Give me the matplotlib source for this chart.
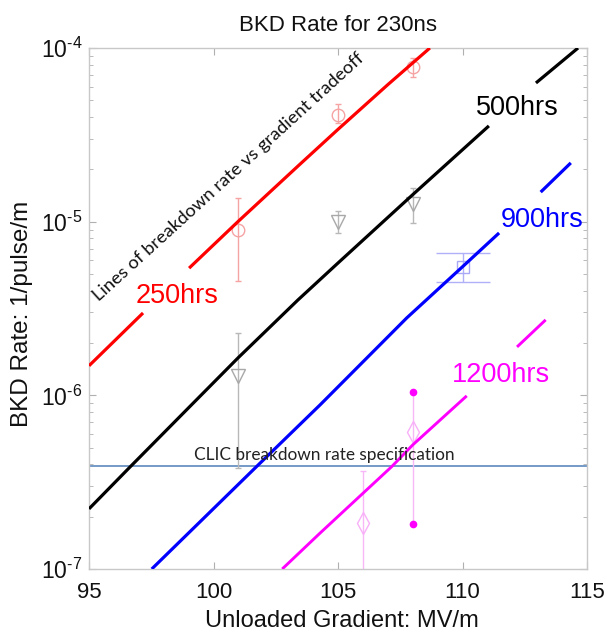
import matplotlib
matplotlib.use("Agg")
import math
import matplotlib.pyplot as plt
from matplotlib.ticker import FixedLocator, FuncFormatter, LogLocator, NullLocator

plt.rcParams['font.family'] = ['Liberation Sans', 'DejaVu Sans']
plt.rcParams['mathtext.fontset'] = 'custom'
plt.rcParams['mathtext.rm'] = 'Liberation Sans'
plt.rcParams['mathtext.it'] = 'Liberation Sans:italic'
plt.rcParams['mathtext.bf'] = 'Liberation Sans:bold'

# ---------------- data ----------------
title = "BKD Rate for 230ns"
x_label = "Unloaded Gradient: MV/m"
y_label = "BKD Rate: 1/pulse/m"
x_ticks = [95, 100, 105, 110, 115]
y_ticks = [1e-7, 1e-6, 1e-5, 1e-4]

# trade-off lines (each split in two pieces around its label)
g250_a = [95.0, 97.17]
r250_a = [1.48e-6, 2.98e-6]
g250_b = [99.02, 100.98, 103.47, 105.0, 107.0, 108.69]
r250_b = [5.40e-6, 1.0e-5, 2.14e-5, 3.40e-5, 6.15e-5, 1.0e-4]

g500_a = [95.0, 96.65, 99.06, 100.98, 103.39, 105.0, 108.0, 111.06]
r500_a = [2.22e-7, 3.87e-7, 8.65e-7, 1.64e-6, 3.54e-6, 5.78e-6, 1.43e-5, 3.56e-5]
g500_b = [112.95, 114.64]
r500_b = [6.29e-5, 1.0e-4]

g900_a = [97.52, 101.73, 104.28, 107.76, 110.0, 111.47]
r900_a = [1.0e-7, 3.89e-7, 8.81e-7, 2.79e-6, 5.5e-6, 8.61e-6]
g900_b = [113.14, 114.35]
r900_b = [1.48e-5, 2.18e-5]

g1200_a = [102.76, 104.28, 107.16, 108.0, 110.17]
r1200_a = [1.0e-7, 1.61e-7, 3.89e-7, 5.18e-7, 9.93e-7]
g1200_b = [112.19, 113.34]
r1200_b = [1.90e-6, 2.72e-6]

clic_spec = 3.9e-7

# measured points
g250_pts = [101, 105, 108]
r250_pts = [8.96e-6, 4.11e-5, 7.8e-5]
r250_lo = [4.56e-6, 3.70e-5, 6.81e-5]
r250_hi = [1.37e-5, 4.77e-5, 8.76e-5]

g500_pts = [101, 105, 108]
r500_pts = [1.29e-6, 9.96e-6, 1.26e-5]
r500_lo = [3.82e-7, 8.6e-6, 9.84e-6]
r500_hi = [2.29e-6, 1.15e-5, 1.56e-5]

g900_pts = [110]
r900_pts = [5.48e-6]
r900_lo = [4.5e-6]
r900_hi = [6.6e-6]

g1200_pts = [106]
r1200_pts = [1.85e-7]
r1200_lo = [5.0e-8]
r1200_hi = [3.69e-7]

g1200_pt2 = [108]
r1200_pt2 = [6.18e-7]
r1200_pt2_lo = [1.82e-7]
r1200_pt2_hi = [1.05e-6]

# ---------------- figure ----------------
W, H = 607, 631
fig = plt.figure(figsize=(W / 100, H / 100), dpi=100)
ax = fig.add_axes([89 / W, 1 - 569 / H, (587 - 89) / W, (569 - 48) / H])
ax.set_xlim(95, 115)
ax.set_yscale('log')
ax.set_ylim(1e-7, 1e-4)

lw = 2.3
for gx, ry in [(g250_a, r250_a), (g250_b, r250_b)]:
    ax.plot(gx, ry, color='#ff0000', lw=lw, solid_capstyle='butt', solid_joinstyle='round', zorder=3)
for gx, ry in [(g500_a, r500_a), (g500_b, r500_b)]:
    ax.plot(gx, ry, color='#000000', lw=lw, solid_capstyle='butt', solid_joinstyle='round', zorder=3)
for gx, ry in [(g900_a, r900_a), (g900_b, r900_b)]:
    ax.plot(gx, ry, color='#0000ff', lw=lw, solid_capstyle='butt', solid_joinstyle='round', zorder=3)
for gx, ry in [(g1200_a, r1200_a), (g1200_b, r1200_b)]:
    ax.plot(gx, ry, color='#ff00ff', lw=2.1, solid_capstyle='butt', solid_joinstyle='round', zorder=3)

ax.axhline(clic_spec, color='#4f7fb8', lw=1.1, zorder=2)


def err(vals, lo, hi):
    return [[v - l for v, l in zip(vals, lo)], [h - v for v, h in zip(vals, hi)]]


ax.errorbar(g250_pts, r250_pts, yerr=err(r250_pts, r250_lo, r250_hi), fmt='o',
            mfc='none', mec='#f5a3a3', ms=9, mew=1.0, ecolor='#f5a3a3',
            elinewidth=1.0, capsize=2.5, capthick=1.0, zorder=2)
ax.errorbar(g500_pts, r500_pts, yerr=err(r500_pts, r500_lo, r500_hi), fmt='v',
            mfc='none', mec='#a8a8a8', ms=10, mew=1.0, ecolor='#b8b8b8',
            elinewidth=1.0, capsize=2.5, capthick=1.0, zorder=2)
ax.errorbar(g900_pts, r900_pts, yerr=err(r900_pts, r900_lo, r900_hi), fmt='s',
            mfc='none', mec='#a8a8f5', ms=8, mew=1.0, ecolor='#b0b0f8',
            elinewidth=1.0, capsize=19.5, capthick=1.0, zorder=2)
ax.errorbar(g1200_pts, r1200_pts, yerr=err(r1200_pts, r1200_lo, r1200_hi), fmt='d',
            mfc='none', mec='#f8b0f8', ms=11, mew=1.0, ecolor='#f8b8f8',
            elinewidth=1.0, capsize=2, capthick=1.0, zorder=2)
ax.errorbar(g1200_pt2, r1200_pt2, yerr=err(r1200_pt2, r1200_pt2_lo, r1200_pt2_hi), fmt='d',
            mfc='none', mec='#f8b0f8', ms=11, mew=1.0, ecolor='#f8b8f8',
            elinewidth=1.0, capsize=0, zorder=2)
ax.plot(g1200_pt2 * 2, r1200_pt2_lo + r1200_pt2_hi, 'o', color='#ff00ff', ms=4.5, zorder=2)

# labels on the lines
ax.text(98.53, 3.40e-6, "250hrs", color='#ff0000', fontsize=19.5, ha='center', va='baseline')
ax.text(112.19, 4.11e-5, "500hrs", color='#000000', fontsize=19.5, ha='center', va='baseline')
ax.text(113.19, 9.32e-6, "900hrs", color='#0000ff', fontsize=19.5, ha='center', va='baseline')
ax.text(111.55, 1.20e-6, "1200hrs", color='#ff00ff', fontsize=19.5, ha='center', va='baseline')

ax.text(104.44, 4.25e-7, "CLIC breakdown rate specification", fontsize=12.4,
        family=['Lato', 'DejaVu Sans'], color='#222222', ha='center', va='baseline')
ax.text(100.62, 1.81e-5, "Lines of breakdown rate vs gradient tradeoff", fontsize=13.2,
        family=['Lato', 'DejaVu Sans'], color='#111111', ha='center', va='center',
        rotation=42.3, rotation_mode='anchor')

# axes styling
ax.xaxis.set_major_locator(FixedLocator(x_ticks))
ax.xaxis.set_minor_locator(NullLocator())
ax.yaxis.set_major_locator(FixedLocator(y_ticks))
ax.yaxis.set_minor_locator(LogLocator(base=10, subs=[2, 3, 4, 5, 6, 7, 8, 9]))


def yfmt(v, pos):
    e = int(round(math.log10(v)))
    return r'$\mathregular{10^{\text{-}%d}}$' % (-e)


ax.yaxis.set_major_formatter(FuncFormatter(yfmt))
ax.yaxis.set_minor_formatter(FuncFormatter(lambda v, p: ''))
ax.tick_params(which='both', direction='in', top=True, right=True, color='#b0b0b0')
ax.tick_params(which='major', length=5, width=0.8)
ax.tick_params(which='minor', length=3, width=0.6)
ax.tick_params(axis='x', labelsize=16, pad=9, colors='#111111')
ax.tick_params(axis='y', labelsize=16.5, pad=5, colors='#111111')
ax.tick_params(which='both', color='#b0b0b0')
for s in ax.spines.values():
    s.set_color('#c8c8c8')
    s.set_linewidth(1.0)

fig.text(338 / W, 1 - 30.7 / H, title, fontsize=16, ha='center', va='baseline', color='#111111')
fig.text(342 / W, 1 - 627 / H, x_label, fontsize=17, ha='center', va='baseline', color='#111111')
fig.text(22 / W, 1 - 314 / H, y_label, fontsize=17.5, ha='center', va='center', rotation=90, color='#111111')

fig.savefig("out.png", dpi=100)
